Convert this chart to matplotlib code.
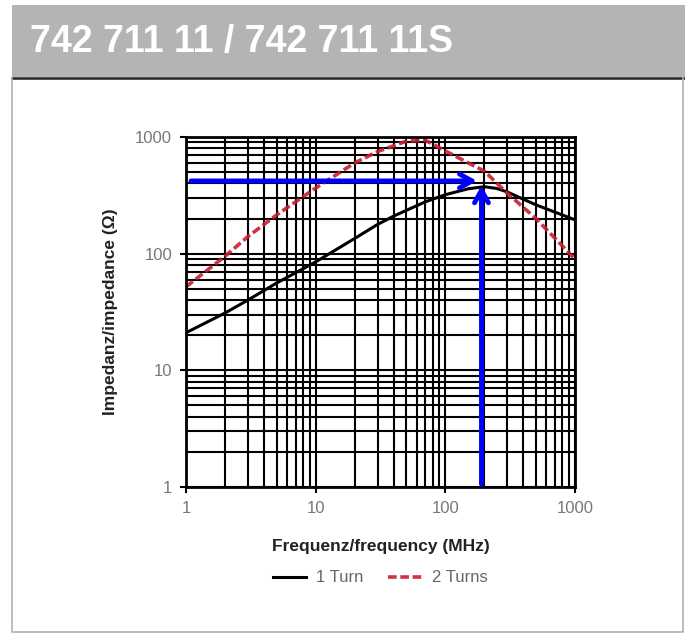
import matplotlib.pyplot as plt
from matplotlib.patches import Rectangle
from matplotlib.lines import Line2D

plt.rcParams['font.family'] = ['Liberation Sans Narrow', 'Liberation Sans', 'DejaVu Sans']

# values
freq_1 = [1, 2, 3, 5, 10, 20, 30, 40, 50, 70, 100, 150, 200, 250, 300, 500, 1000]
imp_1 = [21, 31, 40, 56, 85, 135, 178, 210, 235, 278, 320, 360, 375, 362, 338, 262, 195]
freq_2 = [1, 2, 3, 5, 10, 20, 30, 50, 70, 100, 150, 200, 300, 500, 1000]
imp_2 = [52, 95, 140, 215, 365, 600, 750, 920, 940, 760, 600, 510, 330, 200, 90]
mark_f = 190
mark_z = 420
title = '742 711 11 / 742 711 11S'
x_ticks = [1, 10, 100, 1000]
y_ticks = [1, 10, 100, 1000]

fig = plt.figure(figsize=(6.85, 6.36), dpi=100)

# header bar and frame
fig.patches.append(Rectangle((12 / 685, 1 - 77 / 636), 673 / 685, 72 / 636,
                             transform=fig.transFigure, facecolor='#b3b5b4', edgecolor='none'))
fig.lines.append(Line2D([12 / 685, 1], [1 - 78 / 636, 1 - 78 / 636], transform=fig.transFigure,
                        color='#222222', lw=1.8))
fig.lines.append(Line2D([12 / 685, 12 / 685, 683 / 685, 683 / 685],
                        [1 - 78 / 636, 1 - 632 / 636, 1 - 632 / 636, 1 - 78 / 636],
                        transform=fig.transFigure, color='#b0b0b0', lw=1.2))
fig.text(30 / 685, 1 - 42 / 636, title, color='white', fontsize=27, fontweight='bold',
         va='center', ha='left')

ax = fig.add_axes([186 / 685, 1 - 487 / 636, 389 / 685, 350 / 636])
ax.set_xscale('log')
ax.set_yscale('log')
ax.set_xlim(1, 1000)
ax.set_ylim(1, 1000)

ax.grid(True, which='both', color='black', lw=1.5)
ax.set_axisbelow(True)
for s in ax.spines.values():
    s.set_linewidth(2)

ax.plot(freq_1, imp_1, color='black', lw=2.2, label='1 Turn')
ax.plot(freq_2, imp_2, color='#c81e32', lw=2.6, dashes=(2.4, 1.0), alpha=0.9, label='2 Turns')

# marker arrows
ax.annotate('', xy=(mark_f * 0.97, mark_z), xytext=(1.04, mark_z),
            arrowprops=dict(arrowstyle='->,head_length=0.9,head_width=0.5', color='#0000ff', lw=3.5))
ax.annotate('', xy=(mark_f, mark_z * 0.97), xytext=(mark_f, 1.0),
            arrowprops=dict(arrowstyle='->,head_length=0.9,head_width=0.5', color='#0000ff', lw=3.5))

ax.set_xticks(x_ticks)
ax.set_xticklabels([str(t) for t in x_ticks])
ax.set_yticks(y_ticks)
ax.set_yticklabels([str(t) for t in y_ticks])
ax.tick_params(which='major', length=4, width=1.5, labelsize=12, labelcolor='#777777', pad=6)
ax.tick_params(which='minor', length=0)

ax.set_xlabel('Frequenz/frequency (MHz)', fontsize=12.5, fontweight='bold', color='#222222', labelpad=17)
ax.set_ylabel('Impedanz/impedance (Ω)', fontsize=12.5, fontweight='bold', color='#222222', labelpad=12)

fig.legend(loc='center', bbox_to_anchor=(380 / 685, 1 - 578 / 636), ncol=2, frameon=False,
           fontsize=12, labelcolor='#666666', handlelength=2.0, handletextpad=0.6, columnspacing=1.5)

fig.savefig('out.png', dpi=100)
